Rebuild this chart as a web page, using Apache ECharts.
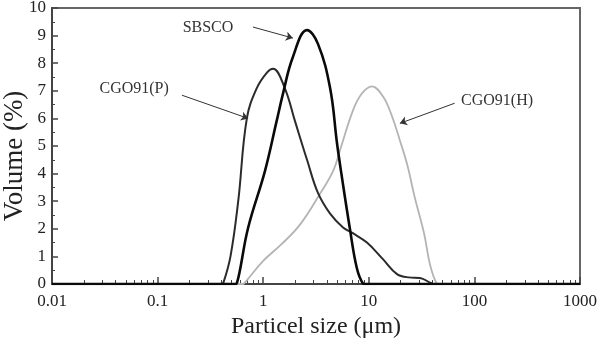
<!DOCTYPE html>
<html>
<head>
<meta charset="utf-8">
<script src="https://cdn.jsdelivr.net/npm/echarts@6/dist/echarts.min.js"></script>
<style>
  html, body { margin: 0; padding: 0; background: #fff; }
  #chart { width: 598px; height: 338px; }
</style>
</head>
<body>
<div id="chart"></div>
<script>
// particle size distribution
const sizeP = [0.01, 0.40, 0.42, 0.49, 0.58, 0.70, 0.87, 1.09, 1.24, 1.6, 2.0, 2.6, 3.3, 4.3, 5.7, 7.0, 9.6, 13.6, 18.5, 24, 30.5, 38, 41, 1000]
const volP = [0, 0, 0.05, 1.0, 3.0, 6.0, 7.1, 7.67, 7.8, 7.1, 5.9, 4.5, 3.3, 2.55, 2.05, 1.85, 1.5, 0.9, 0.36, 0.24, 0.22, 0.05, 0, 0]

const sizeS = [0.01, 0.55, 0.565, 0.60, 0.72, 1.04, 1.34, 1.54, 1.9, 2.6, 3.3, 4.3, 5.0, 5.5, 6.6, 7.7, 8.8, 9.2, 1000]
const volS = [0, 0, 0.05, 0.47, 2.04, 4.1, 5.9, 6.9, 8.2, 9.2, 8.7, 7.1, 5.1, 4.0, 2.04, 0.58, 0.02, 0, 0]

const sizeH = [0.01, 0.64, 0.66, 1.0, 1.5, 2.23, 3.45, 4.6, 5.33, 7.1, 8.6, 10.7, 13.6, 16.5, 19.7, 23.2, 27, 33.5, 38, 44, 46, 1000]
const volH = [0, 0, 0.02, 0.84, 1.45, 2.15, 3.27, 4.1, 4.84, 6.3, 6.9, 7.16, 6.8, 6.1, 5.2, 4.3, 3.2, 1.8, 0.7, 0.02, 0, 0]

const xTicks = ['0.01', '0.1', '1', '10', '100', '1000']
const yTicks = [0, 1, 2, 3, 4, 5, 6, 7, 8, 9, 10]

// annotation anchors in data space: text centre, arrow start, arrow end
const noteNames = ['SBSCO', 'CGO91(P)', 'CGO91(H)']
const noteText = [[0.30, 9.27], [0.06, 7.09], [164, 6.65]]
const noteFrom = [[0.80, 9.31], [0.17, 6.84], [65, 6.55]]
const noteTo = [[1.91, 8.91], [0.72, 6.0], [19.7, 5.82]]

const font = 'Liberation Serif, Times New Roman, serif'
const chart = echarts.init(document.getElementById('chart'), null, { renderer: 'canvas' })

const pairs = (xs, ys) => xs.map((x, i) => [x, ys[i]])

// minor ticks 2..9 for each decade, in log10 space for the helper axis
const minorTicks = []
for (let d = -2; d < 3; d++) {
  for (let k = 2; k <= 9; k++) minorTicks.push(d + Math.log10(k))
}

const arrowLine = (i) => ({
  silent: true,
  symbol: ['none', 'arrow'],
  symbolSize: 7,
  label: { show: false },
  lineStyle: { color: '#333', width: 1, type: 'solid' },
  itemStyle: { color: '#333' },
  emphasis: { disabled: true },
  data: [[{ coord: noteFrom[i] }, { coord: noteTo[i] }]]
})

const option = {
  animation: false,
  backgroundColor: '#fff',
  grid: {
    left: 52, right: 18, top: 8, bottom: 54,
    outerBoundsMode: 'none',
    containLabel: false,
    show: true, borderColor: '#666', borderWidth: 2, backgroundColor: 'transparent'
  },
  xAxis: [
    {
      type: 'log',
      logBase: 10,
      min: 0.01,
      max: 1000,
      name: 'Particel size (\u03bcm)',
      nameLocation: 'middle',
      nameGap: 29,
      nameTextStyle: { fontFamily: font, fontSize: 24, color: '#222' },
      axisLine: { show: true, onZero: false, lineStyle: { color: '#444', width: 2 } },
      axisTick: { show: true, inside: true, length: 7, lineStyle: { color: '#444', width: 1.5 } },
      axisLabel: {
        fontFamily: font, fontSize: 17, color: '#222', margin: 9,
        formatter: (v) => xTicks[Math.round(Math.log10(v)) + 2]
      },
      splitLine: { show: false }
    },
    {
      type: 'value',
      min: -2,
      max: 3,
      position: 'bottom',
      axisLine: { show: false, onZero: false },
      axisLabel: { show: false },
      axisTick: { show: true, inside: true, length: 4, customValues: minorTicks, lineStyle: { color: '#444', width: 1 } },
      splitLine: { show: false }
    }
  ],
  yAxis: {
    type: 'value',
    min: 0,
    max: 10,
    interval: 1,
    name: 'Volume (%)',
    nameLocation: 'middle',
    nameGap: 24,
    nameMoveOverlap: false,
    nameTextStyle: { fontFamily: font, fontSize: 27, color: '#222', padding: [0, 20, 0, 0] },
    axisLine: { show: true, onZero: false, lineStyle: { color: '#444', width: 2 } },
    axisTick: { show: true, inside: true, length: 6, lineStyle: { color: '#444', width: 1.5 } },
    minorTick: { show: true, splitNumber: 2, length: 3, lineStyle: { color: '#444', width: 1 } },
    axisLabel: {
      fontFamily: font, fontSize: 17, color: '#222', margin: 6,
      formatter: (v) => String(yTicks[v])
    },
    splitLine: { show: false }
  },
  series: [
    {
      name: 'CGO91(H)',
      type: 'line',
      data: pairs(sizeH, volH),
      smooth: 0.4,
      showSymbol: false,
      lineStyle: { color: '#b4b4b4', width: 1.8 },
      markLine: arrowLine(2)
    },
    {
      name: 'CGO91(P)',
      type: 'line',
      data: pairs(sizeP, volP),
      smooth: 0.4,
      showSymbol: false,
      lineStyle: { color: '#2b2b2b', width: 2 },
      markLine: arrowLine(1)
    },
    {
      name: 'SBSCO',
      type: 'line',
      data: pairs(sizeS, volS),
      smooth: 0.4,
      showSymbol: false,
      lineStyle: { color: '#0a0a0a', width: 2.6 },
      markLine: arrowLine(0)
    }
  ]
}

chart.setOption(option)

// annotation texts placed through the axes
chart.setOption({
  graphic: noteNames.map((name, i) => {
    const p = chart.convertToPixel({ xAxisIndex: 0, yAxisIndex: 0 }, noteText[i])
    return {
      type: 'text',
      x: p[0],
      y: p[1],
      silent: true,
      style: {
        text: name,
        fontFamily: font,
        fontSize: 16,
        fill: '#333',
        align: 'center',
        verticalAlign: 'middle'
      }
    }
  })
})
</script>
</body>
</html>
